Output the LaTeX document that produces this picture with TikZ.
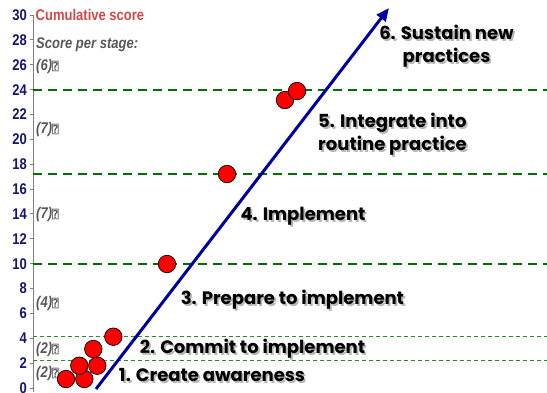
\documentclass[tikz,border=0pt]{standalone}
\usepackage{fontspec}
\setmainfont{Liberation Sans}
\newfontfamily\axisfont[FakeStretch=0.84]{Liberation Sans}
\newfontfamily\stagefont{Poppins}
\newfontfamily\symfont{DejaVu Sans Mono}
\usetikzlibrary{arrows.meta}
\definecolor{axisblue}{RGB}{20,20,115}
\definecolor{cumred}{RGB}{212,72,72}
\definecolor{stagegray}{RGB}{88,88,88}
\definecolor{darkgreen}{RGB}{0,110,0}
\definecolor{lightgreen}{RGB}{40,140,40}
\definecolor{arrowblue}{RGB}{0,0,160}
\tikzset{
  ticklabel/.style={anchor=east, text=axisblue, inner sep=0pt,
    font=\axisfont\bfseries\fontsize{15.5}{15.5}\selectfont},
  stagescore/.style={anchor=west, text=stagegray, inner sep=0pt,
    font=\axisfont\bfseries\itshape\fontsize{15.5}{15.5}\selectfont},
  bigdash/.style={darkgreen, line width=2.2pt, dash pattern=on 9pt off 6pt},
  smalldash/.style={lightgreen, line width=0.9pt, dash pattern=on 4pt off 3pt},
  dot/.style={circle, fill=red, draw=black, line width=0.7pt, minimum size=17.5pt, inner sep=0pt},
  stagelabel/.style={inner sep=0pt, align=center,
    font=\stagefont\bfseries\fontsize{18}{23}\selectfont},
  shadowlabel/.style={stagelabel, text=black!28},
  axisline/.style={draw=gray, line width=1pt}
}
\newcommand{\qbox}{{\symfont\fontsize{11}{11}\selectfont ⍰}}
\begin{document}
\begin{tikzpicture}[x=1pt,y=-1pt]
\useasboundingbox (0,0) rectangle (547,392);
% axis
\coordinate (axtop) at (33,15);
\coordinate (axbot) at (33,392);
\draw[axisline] (axtop) -- (axbot);
\foreach \v in {0,2,...,30}{
  \pgfmathsetmacro\yy{388-12.43*\v}
  \coordinate (tk\v) at (33,\yy);
  \coordinate (tl\v) at (29.5,\yy);
  \draw[axisline] (tl\v) -- (tk\v);
  \node[ticklabel] (t\v) at (27,\yy) {\v};
}
% dashed level lines
\coordinate (d24a) at (33,89.7);   \coordinate (d24b) at (547,89.7);
\coordinate (d17a) at (33,173.7);  \coordinate (d17b) at (547,173.7);
\coordinate (d10a) at (33,263.7);  \coordinate (d10b) at (547,263.7);
\coordinate (d4a) at (33,336.7);   \coordinate (d4b) at (547,336.7);
\coordinate (d2a) at (33,360.7);   \coordinate (d2b) at (547,360.7);
\draw[bigdash] (d24a) -- (d24b);
\draw[bigdash] (d17a) -- (d17b);
\draw[bigdash] (d10a) -- (d10b);
\draw[smalldash] (d4a) -- (d4b);
\draw[smalldash] (d2a) -- (d2b);
% headings
\node[anchor=west, inner sep=0pt, text=cumred, font=\axisfont\bfseries\fontsize{15.5}{15.5}\selectfont] (cum) at (35.5,15) {Cumulative score};
\node[stagescore] (sps) at (36,45) {Score per stage:};
\node[stagescore] (p6) at (36,66.5) {(6)\qbox};
\node[stagescore] (p5) at (36,129) {(7)\qbox};
\node[stagescore] (p4) at (36,214.7) {(7)\qbox};
\node[stagescore] (p3) at (36,303) {(4)\qbox};
\node[stagescore] (p2) at (36,349.5) {(2)\qbox};
\node[stagescore] (p1) at (36,373) {(2)\qbox};
% stage labels with shadow
\node[shadowlabel] (s6sh) at (448.3,48.3) {6. Sustain new\\practices};
\node[stagelabel] (s6) at (446.5,46.5) {6. Sustain new\\practices};
\node[shadowlabel, align=left, anchor=west] (s5sh) at (319.8,135.8) {5. Integrate into\\routine practice};
\node[stagelabel, align=left, anchor=west] (s5) at (318,134) {5. Integrate into\\routine practice};
\node[shadowlabel] (s4sh) at (304.8,218.5) {4. Implement};
\node[stagelabel] (s4) at (303,216.7) {4. Implement};
\node[shadowlabel] (s3sh) at (294.2,301.8) {3. Prepare to implement};
\node[stagelabel] (s3) at (292.4,300) {3. Prepare to implement};
\node[shadowlabel] (s2sh) at (254.3,350.8) {2. Commit to implement};
\node[stagelabel] (s2) at (252.5,349) {2. Commit to implement};
\node[shadowlabel] (s1sh) at (213.8,376.8) {1. Create awareness};
\node[stagelabel] (s1) at (212,375) {1. Create awareness};
% circles
\node[dot] (c1) at (66,379) {};
\node[dot] (c2) at (84.3,379) {};
\node[dot] (c3) at (79.3,365.7) {};
\node[dot] (c4) at (97.3,365.7) {};
\node[dot] (c5) at (93.3,349) {};
\node[dot] (c6) at (113.3,336.7) {};
\node[dot] (c7) at (167,264) {};
\node[dot] (c8) at (227,174) {};
\node[dot] (c9) at (285,100) {};
\node[dot] (c10) at (297,91) {};
% arrow
\coordinate (abase) at (96,389);
\coordinate (atip) at (389,8);
\draw[arrowblue, line width=3pt, -{Triangle[length=13pt,width=11pt]}] (abase) -- (atip);
\end{tikzpicture}
\end{document}
